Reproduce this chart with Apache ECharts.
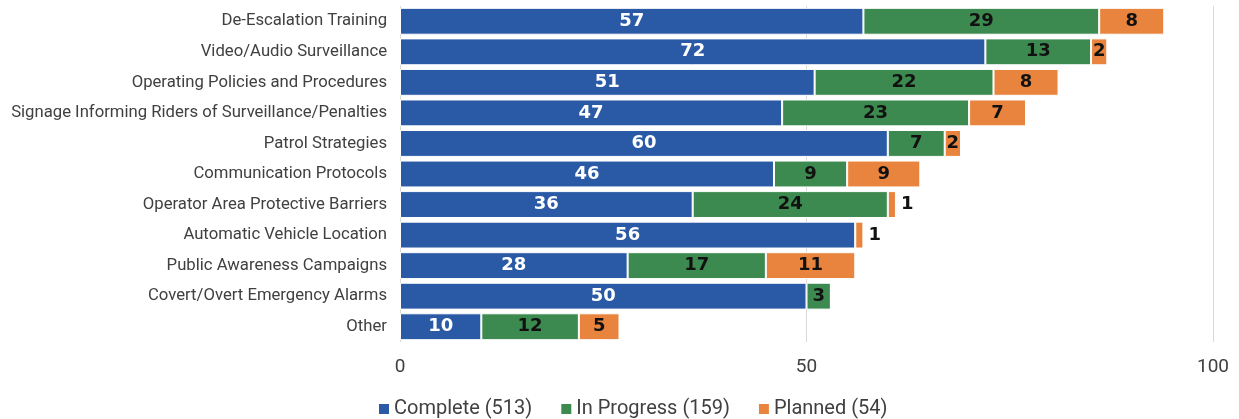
<!DOCTYPE html>
<html>
<head>
<meta charset="utf-8">
<script src="https://cdn.jsdelivr.net/npm/echarts@6/dist/echarts.min.js"></script>
<style>html,body{margin:0;padding:0;background:#fff}#c{width:1239px;height:419px}</style>
</head>
<body>
<div id="c"></div>
<script>
const categories = ["De-Escalation Training","Video/Audio Surveillance","Operating Policies and Procedures","Signage Informing Riders of Surveillance/Penalties","Patrol Strategies","Communication Protocols","Operator Area Protective Barriers","Automatic Vehicle Location","Public Awareness Campaigns","Covert/Overt Emergency Alarms","Other"];
const complete = [57,72,51,47,60,46,36,56,28,50,10];
const inProgress = [29,13,22,23,7,9,24,0,17,3,12];
const planned = [8,2,8,7,2,9,1,1,11,0,5];
const xTicks = [0,50,100];
const seriesNames = ["Complete (513)","In Progress (159)","Planned (54)"];
const colors = ["#2a5aa6","#3d8a50","#e8843e"];

const chart = echarts.init(document.getElementById('c'));
function mk(vals){
  return vals.map(v => v === 1 ? {value:v, label:{position:'right'}} : v);
}
function series(name, vals, color, textColor){
  return {
    name, type:'bar', stack:'s', data: mk(vals), barCategoryGap:'12%',
    itemStyle:{color, borderColor:'#fff', borderWidth:1},
    label:{show:true, position:'inside', color:textColor, fontFamily:'DejaVu Sans', fontWeight:'bold', fontSize:18,
      formatter: p => p.value ? String(p.value) : ''},
    emphasis:{disabled:true}
  };
}
chart.setOption({
  animation:false,
  color: colors,
  grid:{left:400, right:26, top:6, bottom:77},
  xAxis:{type:'value', min:0, max:100, interval:50,
    axisLine:{show:false}, axisTick:{show:false},
    splitLine:{lineStyle:{color:'#d9d9d9', width:1}},
    axisLabel:{color:'#404040', fontFamily:'Roboto', fontSize:19, margin:16,
      formatter: v => xTicks.includes(v) ? String(v) : ''}},
  yAxis:{type:'category', data:categories, inverse:true,
    axisLine:{show:false}, axisTick:{show:false},
    axisLabel:{color:'#404040', fontFamily:'Roboto', fontSize:16.7, margin:13}},
  legend:{top:394, left:372, itemWidth:12, itemHeight:12, itemGap:27, icon:'rect',
    textStyle:{color:'#404040', fontFamily:'Roboto', fontSize:20, padding:[0,0,0,-1]}},
  series:[
    series(seriesNames[0], complete, colors[0], '#ffffff'),
    series(seriesNames[1], inProgress, colors[1], '#111111'),
    series(seriesNames[2], planned, colors[2], '#111111')
  ]
});
</script>
</body>
</html>
